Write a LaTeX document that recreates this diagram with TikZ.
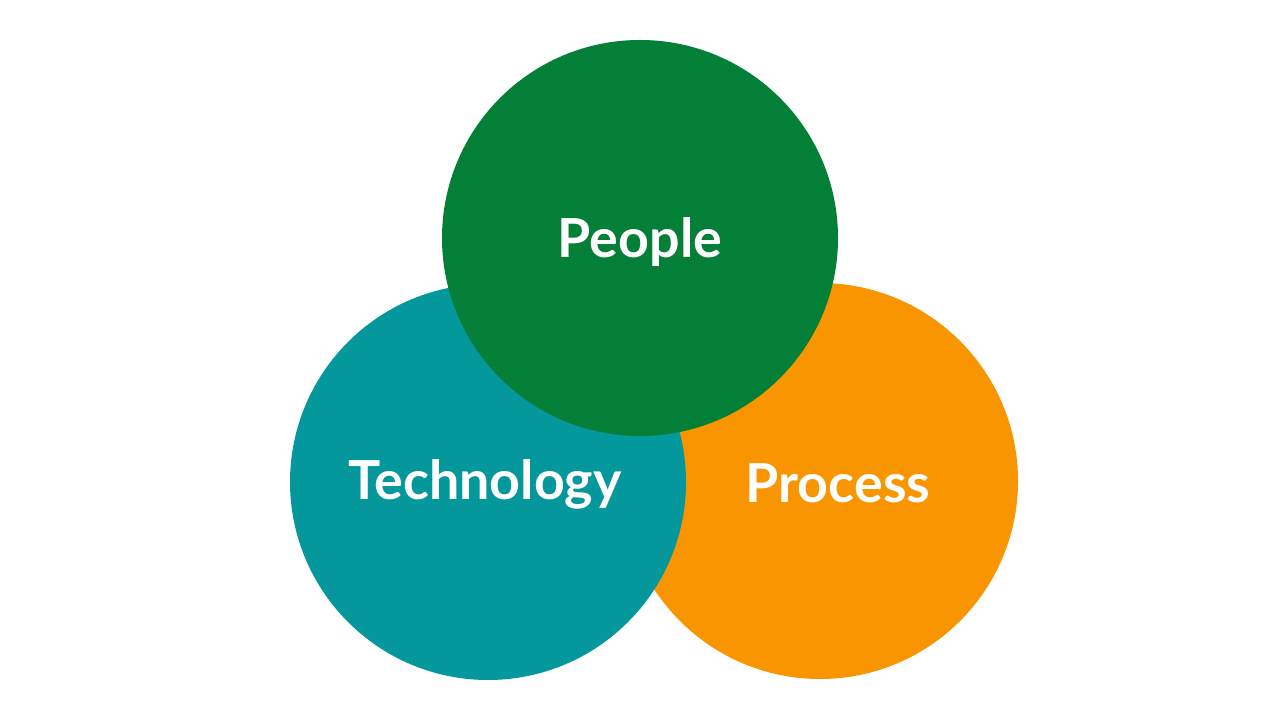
\documentclass[tikz,border=0pt]{standalone}
\usepackage{fontspec}
\setmainfont{Lato}
\usetikzlibrary{positioning}
\definecolor{peoplegreen}{HTML}{037F37}
\definecolor{techteal}{HTML}{04979C}
\definecolor{processorange}{HTML}{F99500}

\begin{document}
\begin{tikzpicture}[
    pillar/.style={circle, minimum size=3.96cm, inner sep=0pt},
    caption/.style={text=white, inner sep=0pt,
        font=\fontsize{15.3}{18}\selectfont\bfseries}
]
    \useasboundingbox (0,0) rectangle (12.8,-7.2);

    \node[pillar, fill=processorange] (process) at (8.20,-4.81) {};
    \node[pillar, fill=techteal] (technology) at (4.88,-4.82) {};
    \node[pillar, fill=peoplegreen] (people) at (6.40,-2.38) {};

    \node[caption] (process label) at ([xshift=0.18cm,yshift=-0.02cm]process.center) {Process};
    \node[caption] (technology label) at ([xshift=-0.03cm,yshift=-0.02cm]technology.center) {Technology};
    \node[caption] (people label) at ([yshift=-0.04cm]people.center) {People};
\end{tikzpicture}
\end{document}
